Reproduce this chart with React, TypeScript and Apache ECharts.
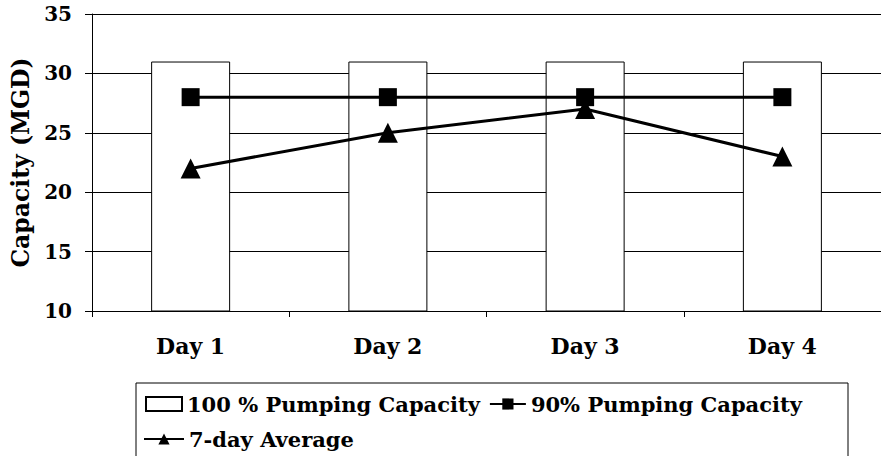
import React, { useEffect, useRef } from "react";
import * as echarts from "echarts";

const categories = ["Day 1", "Day 2", "Day 3", "Day 4"];
const pumping100 = [31, 31, 31, 31];
const pumping90 = [28, 28, 28, 28];
const sevenDayAvg = [22, 25, 27, 23];
const seriesNames = ["100 % Pumping Capacity", "90% Pumping Capacity", "7-day Average"];

const FONT = "DejaVu Serif";

export default function App() {
  const ref = useRef<HTMLDivElement>(null);
  useEffect(() => {
    if (!ref.current) return;
    const chart = echarts.init(ref.current, null, { renderer: "svg" });
    chart.setOption({
      animation: false,
      backgroundColor: "#ffffff",
      textStyle: { fontFamily: FONT, color: "#000" },
      grid: { left: 92, top: 14, bottom: 145, right: -6, containLabel: false },
      xAxis: {
        type: "category",
        data: categories,
        axisLine: { show: true, lineStyle: { color: "#000", width: 1 } },
        axisTick: { show: true, length: 6, lineStyle: { color: "#000" } },
        axisLabel: { fontFamily: FONT, fontWeight: "bold", fontSize: 22, color: "#000", margin: 24 },
      },
      yAxis: {
        type: "value",
        min: 10,
        max: 35,
        interval: 5,
        name: "Capacity (MGD)",
        nameLocation: "middle",
        nameGap: 54,
        nameTextStyle: { fontFamily: FONT, fontWeight: "bold", fontSize: 23.5, color: "#000" },
        axisLine: { show: true, lineStyle: { color: "#000", width: 1 } },
        axisTick: { show: true, length: 7, inside: false, lineStyle: { color: "#000" } },
        axisLabel: { fontFamily: FONT, fontWeight: "bold", fontSize: 20, color: "#000", margin: 20 },
        splitLine: { show: true, lineStyle: { color: "#000", width: 1 } },
      },
      legend: [
        {
          data: [{ name: seriesNames[0], icon: "rect" }, { name: seriesNames[1] }],
          left: 145,
          top: 389,
          padding: 0,
          itemGap: 9,
          itemWidth: 36,
          itemHeight: 14,
          textStyle: { fontFamily: FONT, fontWeight: "bold", fontSize: 21, color: "#000", lineHeight: 30 },
        },
        {
          data: [seriesNames[2]],
          left: 143,
          top: 424,
          padding: 0,
          itemWidth: 40,
          itemHeight: 14,
          textStyle: { fontFamily: FONT, fontWeight: "bold", fontSize: 21, color: "#000", lineHeight: 30 },
        },
      ],
      graphic: [
        {
          type: "rect",
          shape: { x: 136, y: 383, width: 712, height: 90 },
          style: { fill: "none", stroke: "#000", lineWidth: 1 },
          z: 0,
        },
      ],
      series: [
        {
          name: seriesNames[0],
          type: "bar",
          data: pumping100,
          barWidth: 79,
          itemStyle: { color: "#fff", borderColor: "#000", borderWidth: 1 },
          z: 2,
        },
        {
          name: seriesNames[1],
          type: "line",
          data: pumping90,
          symbol: "rect",
          symbolSize: 18,
          lineStyle: { color: "#000", width: 3 },
          itemStyle: { color: "#000" },
          z: 3,
        },
        {
          name: seriesNames[2],
          type: "line",
          data: sevenDayAvg,
          symbol: "triangle",
          symbolSize: 20,
          lineStyle: { color: "#000", width: 3 },
          itemStyle: { color: "#000" },
          z: 4,
        },
      ],
    });
    return () => chart.dispose();
  }, []);
  return <div ref={ref} style={{ width: 881, height: 456, position: "absolute", left: 0, top: 0 }} />;
}
